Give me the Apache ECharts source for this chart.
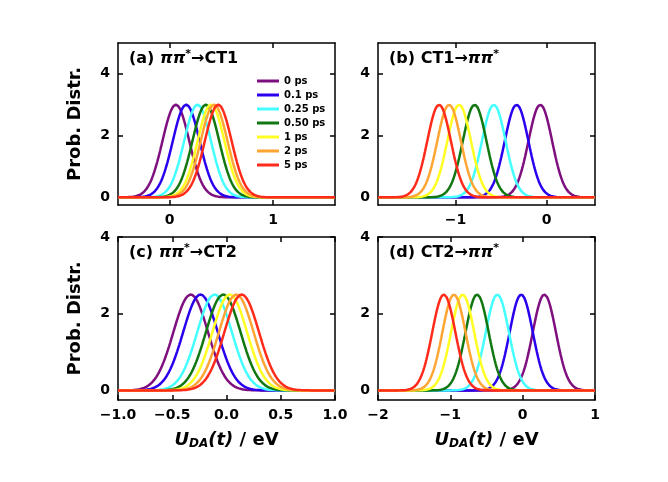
<!DOCTYPE html>
<html>
<head>
<meta charset="utf-8">
<script src="https://cdn.jsdelivr.net/npm/echarts@6/dist/echarts.min.js"></script>
<style>body{margin:0;background:#fff}#c{width:668px;height:482px}</style>
</head>
<body>
<div id="c"></div>
<script>
// legend names and colours
const times = ["0 ps", "0.1 ps", "0.25 ps", "0.50 ps", "1 ps", "2 ps", "5 ps"];
const colors = ["#7f0f7f", "#2a00ee", "#44ffff", "#117711", "#ffff22", "#ffa533", "#ff2a1a"];

// peak positions (eV), one per time
const centersA = [0.06, 0.16, 0.27, 0.35, 0.40, 0.43, 0.47];
const centersB = [-0.07, -0.33, -0.58, -0.79, -0.96, -1.07, -1.18];
const centersC = [-0.33, -0.24, -0.11, -0.03, 0.03, 0.09, 0.14];
const centersD = [0.30, -0.02, -0.35, -0.63, -0.83, -0.95, -1.09];
const peakTop = [3.0, 3.0, 2.5, 2.5];
const widths = [0.13, 0.13, 0.16, 0.16];

const xRanges = [[-0.5, 1.6], [-1.85, 0.53], [-1, 1], [-2, 1]];
const yRanges = [[-0.25, 5], [-0.25, 5], [-0.25, 4], [-0.25, 4]];
const xTickVals = [[0, 1], [-1, 0], [-1, -0.5, 0, 0.5, 1], [-2, -1, 0, 1]];
const yTickVals = [0, 2, 4];

const grids = [
  { left: 118, top: 43, width: 217, height: 162 },
  { left: 378, top: 43, width: 217, height: 162 },
  { left: 118, top: 237, width: 217, height: 163 },
  { left: 378, top: 237, width: 217, height: 163 }
];

const font = "DejaVu Sans";
const axisLine = { show: true, onZero: false, lineStyle: { color: "#000", width: 1.5 } };
const tickBase = { show: true, inside: true, length: 5, lineStyle: { color: "#000", width: 1.5 } };
const labelBase = { color: "#000", fontFamily: font, fontWeight: "bold", fontSize: 14 };

const chart = echarts.init(document.getElementById("c"));
const xAxis = [], yAxis = [], series = [];
const allCenters = [centersA, centersB, centersC, centersD];

grids.forEach((g, i) => {
  const [x0, x1] = xRanges[i];
  const fmt = v => (i === 2 ? v.toFixed(1) : String(v)).replace("-", "−");
  xAxis.push({
    gridIndex: i, type: "value", min: x0, max: x1,
    axisLine, splitLine: { show: false },
    axisTick: Object.assign({}, tickBase, { customValues: xTickVals[i] }),
    axisLabel: Object.assign({}, labelBase, { customValues: xTickVals[i], formatter: fmt, margin: 8 }),
    name: i >= 2 ? "{u|U}{s|DA}{u|(t)}{n| / eV}" : "",
    nameLocation: "middle", nameGap: 30,
    nameTextStyle: {
      rich: {
        u: { fontFamily: font, fontWeight: "bold", fontStyle: "italic", fontSize: 18, color: "#000" },
        s: { fontFamily: font, fontWeight: "bold", fontStyle: "italic", fontSize: 12, color: "#000", verticalAlign: "bottom", padding: [8, 0, 0, 0] },
        n: { fontFamily: font, fontWeight: "bold", fontSize: 18, color: "#000" }
      }
    }
  });
  xAxis.push({
    gridIndex: i, type: "value", min: x0, max: x1, position: "top",
    axisLine, splitLine: { show: false }, axisLabel: { show: false },
    axisTick: Object.assign({}, tickBase, { customValues: xTickVals[i] })
  });
  const [y0, y1] = yRanges[i];
  yAxis.push({
    gridIndex: i, type: "value", min: y0, max: y1,
    axisLine, splitLine: { show: false },
    axisTick: Object.assign({}, tickBase, { customValues: yTickVals }),
    axisLabel: Object.assign({}, labelBase, { customValues: yTickVals, margin: 8 }),
    name: i % 2 === 0 ? "Prob. Distr." : "", nameLocation: "middle", nameGap: 34,
    nameTextStyle: { color: "#000", fontFamily: font, fontWeight: "bold", fontSize: 18 }
  });
  yAxis.push({
    gridIndex: i, type: "value", min: y0, max: y1, position: "right",
    axisLine, splitLine: { show: false }, axisLabel: { show: false },
    axisTick: Object.assign({}, tickBase, { customValues: yTickVals })
  });

  allCenters[i].forEach((c, k) => {
    const pts = [];
    for (let x = x0; x <= x1 + 1e-9; x += 0.005) {
      pts.push([x, peakTop[i] * Math.exp(-((x - c) ** 2) / (2 * widths[i] ** 2))]);
    }
    series.push({
      name: times[k], type: "line", xAxisIndex: 2 * i, yAxisIndex: 2 * i,
      data: pts, showSymbol: false, symbol: "none", color: colors[k],
      lineStyle: { width: 2.5 }, animation: false, silent: true, z: 2
    });
  });
});

const titleRich = {
  b: { fontFamily: font, fontWeight: "bold", fontSize: 16, color: "#000" },
  p: { fontFamily: font, fontWeight: "bold", fontStyle: "italic", fontSize: 16, color: "#000" },
  sup: { fontFamily: font, fontWeight: "bold", fontSize: 11, color: "#000", verticalAlign: "top", padding: [0, 0, 8, 0] }
};
const titleText = [
  "{b|(a) }{p|ππ}{sup|*}{b|→CT1}",
  "{b|(b) CT1→}{p|ππ}{sup|*}",
  "{b|(c) }{p|ππ}{sup|*}{b|→CT2}",
  "{b|(d) CT2→}{p|ππ}{sup|*}"
];

chart.setOption({
  animation: false,
  grid: grids,
  xAxis, yAxis, series,
  legend: {
    data: times, orient: "vertical", left: 252, top: 71, itemGap: 4,
    itemWidth: 22, itemHeight: 9, icon: "path://M0,0H22V3H0Z",
    textStyle: { fontFamily: font, fontWeight: "bold", fontSize: 10, color: "#000" }
  },
  graphic: grids.map((g, i) => ({
    type: "text", left: g.left + 11, top: g.top + 6,
    style: { text: titleText[i], rich: titleRich }
  }))
});
</script>
</body>
</html>
